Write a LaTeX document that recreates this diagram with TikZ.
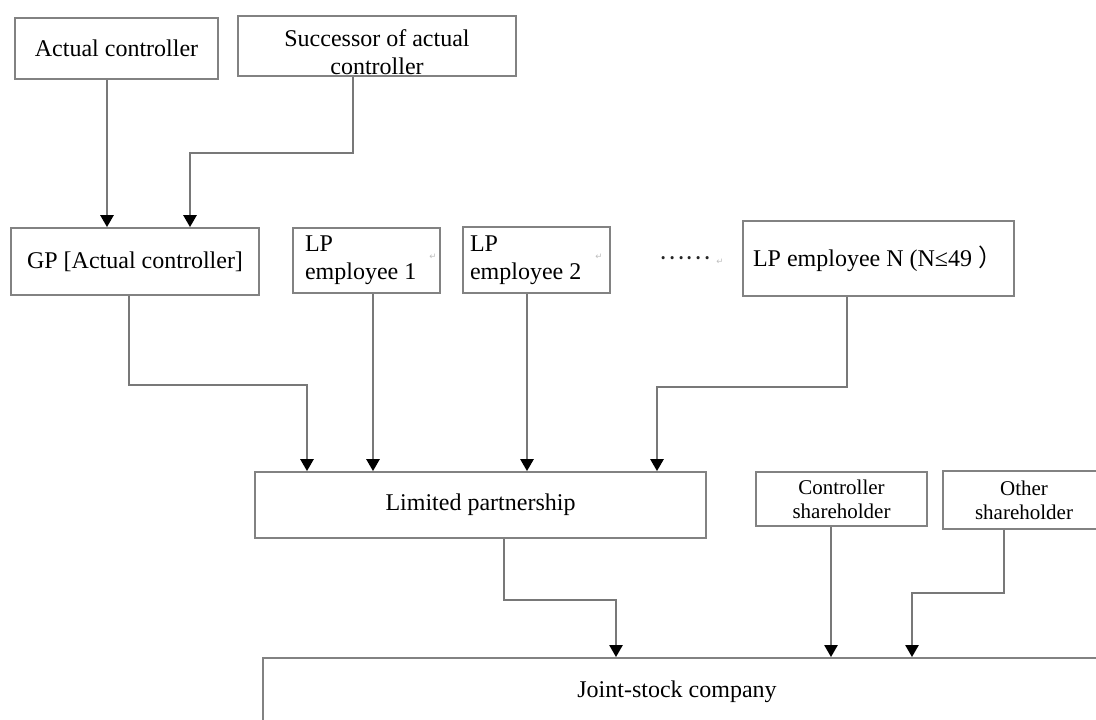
\documentclass[tikz,border=0pt]{standalone}
\usepackage{fontspec}
\setmainfont{Liberation Serif}
\newfontfamily\cjk{Noto Sans CJK SC}
\newfontfamily\symfont{DejaVu Sans}
\usetikzlibrary{arrows.meta}

\tikzset{
  box/.style={draw={rgb, 255:red, 130; green, 130; blue, 130 }, line width=1.4pt, fill=white, inner sep=0pt, align=center, font=\fontsize{18}{21}\selectfont},
  smallbox/.style={box, font=\fontsize{15.75}{18}\selectfont},
  plain/.style={inner sep=0.75pt, font=\fontsize{18}{21}\selectfont},
  link/.style={draw={rgb, 255:red, 120; green, 120; blue, 120 }, line width=1.3pt, -{Triangle[length=9pt,width=10pt,color=black]}},
  parmark/.style={inner sep=0pt, text=black!25, font=\symfont\fontsize{6.5}{7}\selectfont},
}

\begin{document}
\begin{tikzpicture}[x=0.75pt,y=0.75pt,yscale=-1,xscale=1]
\useasboundingbox (0,0) rectangle (1096,720);
\clip (0,0) rectangle (1096,720);

%Shape: Rectangle [ac]
\draw (116.5,48.5) node [box, minimum width=152.25pt, minimum height=45.75pt] (ac) {Actual controller};
%Shape: Rectangle [succ]
\draw (377,46) node [box, minimum width=208.5pt, minimum height=45pt] (succ) {\rule{0pt}{22pt}Successor of actual\\controller};
%Shape: Rectangle [gp]
\draw (135,261.5) node [box, minimum width=186pt, minimum height=50.25pt] (gp) {GP [Actual controller]};
%Shape: Rectangle [lp1]
\draw (366.5,260.5) node [box, minimum width=110.25pt, minimum height=48.75pt, text width=92.25pt, align=flush left] (lp1) {LP\\employee 1};
%Shape: Rectangle [lp2]
\draw (536.5,260) node [box, minimum width=110.25pt, minimum height=49.5pt, text width=99.75pt, align=flush left] (lp2) {LP\\employee 2};
%Shape: Rectangle [lpn]
\draw (878.5,258.5) node [box, minimum width=203.25pt, minimum height=56.25pt, text width=188.25pt, align=flush left] (lpn) {LP employee N (N≤49 {\cjk ）}};
%Shape: Rectangle [lpart]
\draw (480.5,505) node [box, minimum width=338.25pt, minimum height=49.5pt] (lpart) {Limited partnership};
%Shape: Rectangle [cs]
\draw (841.5,499) node [smallbox, minimum width=128.25pt, minimum height=40.5pt] (cs) {Controller\\shareholder};
%Shape: Rectangle [os]
\draw (1024,500) node [smallbox, minimum width=121.5pt, minimum height=43.5pt] (os) {Other\\shareholder};
%Shape: Rectangle [jsc]
\draw (262,657) node [box, anchor=north west, minimum width=636pt, minimum height=67.5pt] (jsc) {};

% Text Node
\draw (677,692) node [plain] (jsctext) {Joint-stock company};
% Text Node
\draw (685,258) node [plain, text=black!85] (dots) {\cjk ……};
% Text Node
\draw (433,257) node [parmark] (mk1) {↵};
% Text Node
\draw (599,257) node [parmark] (mk2) {↵};
% Text Node
\draw (720,262) node [parmark] (mk3) {↵};

%Straight Lines
\draw [link] (ac.south -| 107,0) -- (gp.north -| 107,0);
\draw [link] (succ.south -| 353,0) |- (190,153) -- (gp.north -| 190,0);
%Straight Lines
\draw [link] (gp.south -| 129,0) |- (307,385) -- (lpart.north -| 307,0);
\draw [link] (lp1.south -| 373,0) -- (lpart.north -| 373,0);
\draw [link] (lp2.south -| 527,0) -- (lpart.north -| 527,0);
\draw [link] (lpn.south -| 847,0) |- (657,387) -- (lpart.north -| 657,0);
%Straight Lines
\draw [link] (lpart.south -| 504,0) |- (616,600) -- (jsc.north -| 616,0);
\draw [link] (cs.south -| 831,0) -- (jsc.north -| 831,0);
\draw [link] (os.south -| 1004,0) |- (912,593) -- (jsc.north -| 912,0);

\end{tikzpicture}
\end{document}
